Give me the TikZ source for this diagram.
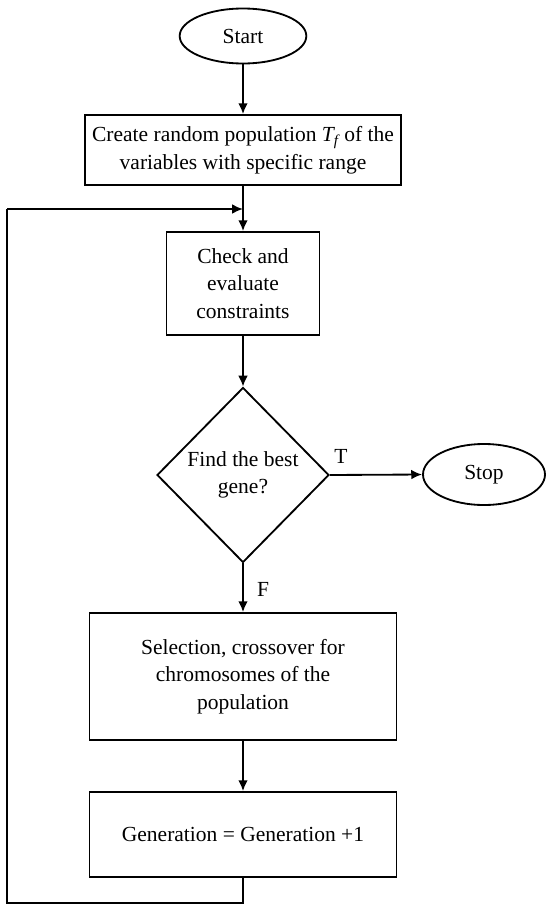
\documentclass[tikz,border=0pt]{standalone}
\usepackage{fontspec}
\setmainfont{Liberation Serif}
\usetikzlibrary{shapes.geometric,arrows.meta,positioning}

\begin{document}
\begin{tikzpicture}[
                    >={Latex[length=6.5pt, width=5.8pt]},
                    x=0.6pt, y=-0.6pt,
                    every node/.style={font=\fontsize{12.9}{16.5}\selectfont},
                    term/.style={draw, line width=1.1pt, ellipse, inner sep=0pt},
                    proc/.style={draw, line width=1.1pt, rectangle, align=center, inner sep=0pt},
                    test/.style={draw, line width=1.1pt, diamond, align=center, inner sep=0pt},
                    flow/.style={->, line width=1.1pt}]

                \useasboundingbox (0,0) rectangle (546,904);

                \draw(243,36) node[term, minimum width=76pt, minimum height=33pt] (start) {Start};
                \draw(243,150) node[proc, minimum width=189.6pt, minimum height=42pt] (create)
                {Create random population \textit{T\textsubscript{f}} of the\\ variables with specific range};
                \draw(243,283.5) node[proc, minimum width=91.8pt, minimum height=61.8pt] (check)
                {Check and\\ evaluate\\ constraints};
                \draw(243,475) node[test, minimum width=103.2pt, minimum height=105pt] (best)
                {Find the best\\ gene?};
                \draw(484,474.5) node[term, minimum width=73.2pt, minimum height=36.6pt] (stop) {Stop};
                \draw(243,676.5) node[proc, minimum width=184.2pt, minimum height=76.2pt] (select)
                {Selection, crossover for\\ chromosomes of the\\ population};
                \draw(243,834.5) node[proc, minimum width=184.2pt, minimum height=51pt] (gen)
                {Generation = Generation +1};

                \draw(341,456) node (T) {T};
                \draw(263,589) node (F) {F};

                \coordinate (join) at (243,209);
                \coordinate (low) at (243,903);
                \coordinate (corner) at (7,903);
                \coordinate (back) at (7,209);

                \draw[flow] (start) to (create);
                \draw[flow] (create) to (check);
                \draw[flow] (check) to (best);
                \draw[flow] (best.east) to (stop.west);
                \draw[flow] (best.south) to (select);
                \draw[flow] (select) to (gen);
                \draw[line width=1.1pt] (gen.south) -- (low) -- (corner) -- (back);
                \draw[flow] (back) -- (join);

            \end{tikzpicture}
\end{document}
